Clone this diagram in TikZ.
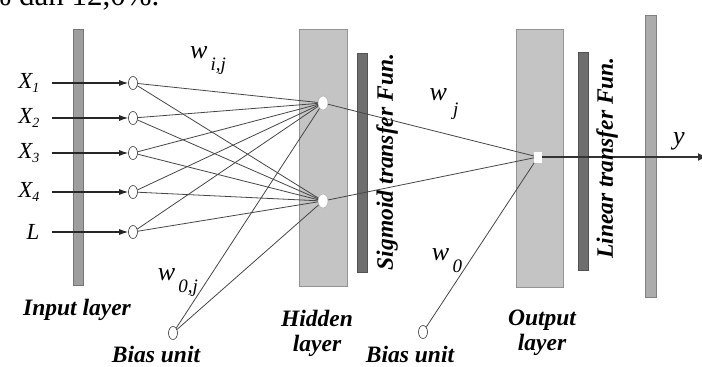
\documentclass[tikz,border=0pt]{standalone}
\usepackage{fontspec}
\setmainfont{Liberation Serif}
\usetikzlibrary{shapes.geometric, arrows.meta, positioning}
\definecolor{inGray}{RGB}{158,158,158}
\definecolor{layerGray}{RGB}{196,196,196}
\definecolor{funGray}{RGB}{110,110,110}
\definecolor{outGray}{RGB}{172,172,172}
\definecolor{wireGray}{RGB}{70,70,70}

\begin{document}
\begin{tikzpicture}[
  x=1pt, y=-1pt,
  bar/.style={
    rectangle, draw=#1!75!black, fill=#1,
    inner sep=0pt, line width=0.6pt
  },
  unit/.style={
    ellipse, draw=black!80, fill=white,
    minimum width=9pt, minimum height=13pt, inner sep=0pt, line width=0.6pt
  },
  hunit/.style={unit, draw=black!30, minimum width=10pt, minimum height=14pt},
  wire/.style={draw=wireGray, line width=0.8pt},
  inarr/.style={-{Latex[length=9pt,width=6pt]}, line width=1.1pt, black!85},
  lbl/.style={font=\fontsize{23.5}{25}\selectfont\bfseries\itshape, align=center},
  wlbl/.style={font=\fontsize{26}{28}\selectfont\itshape}
]
  \clip (0,0) rectangle (702,367);
  \useasboundingbox (0,0) rectangle (702,367);

  % Layers
  \node[bar=inGray, minimum width=10pt, minimum height=256pt]
    (inbar) at (78,157) {};
  \node[bar=layerGray, minimum width=48pt, minimum height=257pt]
    (hidden) at (323,157.5) {};
  \node[bar=funGray, minimum width=10pt, minimum height=219pt]
    (sigbar) at (362,162.5) {};
  \node[bar=layerGray, minimum width=47pt, minimum height=258pt]
    (output) at (539.5,158) {};
  \node[bar=funGray, minimum width=10pt, minimum height=218pt]
    (linbar) at (583,161) {};
  \node[bar=outGray, minimum width=11pt, minimum height=282pt]
    (outbar) at (650.5,156) {};

  % Units
  \foreach \n/\y/\t in {1/83/{X\raisebox{-0.4ex}{\fontsize{14}{14}\selectfont 1}},
                        2/118/{X\raisebox{-0.4ex}{\fontsize{14}{14}\selectfont 2}},
                        3/153/{X\raisebox{-0.4ex}{\fontsize{14}{14}\selectfont 3}},
                        4/192/{X\raisebox{-0.4ex}{\fontsize{14}{14}\selectfont 4}},
                        5/232/{L}} {
    \node[font=\fontsize{23}{25}\selectfont\itshape, anchor=east] (x\n) at (43,\y) {\t};
    \coordinate (s\n) at (52,\y);
    \node[unit] (i\n) at (133,\y) {};
  }
  \node[hunit] (h1) at (323,103) {};
  \node[hunit] (h2) at (323,201) {};
  \node[unit] (b1) at (173,333) {};
  \node[unit] (b2) at (423,332) {};
  \node[rectangle, fill=white, minimum width=8pt, minimum height=11pt,
    inner sep=0pt] (o) at (538,157) {};
  \coordinate (yend) at (707,157);

  % Connections
  \foreach \n in {1,...,5}
    \draw[inarr] (s\n) -- (i\n);
  \foreach \n in {1,...,5}
    \foreach \h in {h1,h2}
      \draw[wire] (i\n) -- (\h);
  \foreach \h in {h1,h2}
    \draw[wire] (b1) -- (\h);
  \foreach \a in {h1,h2,b2}
    \draw[wire] (\a) -- (o);
  \draw[-{Latex[length=9pt,width=8pt]}, line width=1.2pt, black!80] (o) -- (yend);

  % Labels
  \node[lbl] (inlbl) at (77,310) {Input layer};
  \node[lbl] (bias1) at (156,354) {Bias unit};
  \node[lbl] (hidlbl) at (317,333) {Hidden\\layer};
  \node[lbl] (bias2) at (410,354) {Bias unit};
  \node[lbl] (outlbl) at (542,333) {Output\\layer};
  \node[lbl, rotate=90] (siglbl) at (387,162) {Sigmoid transfer Fun.};
  \node[lbl, rotate=90] (linlbl) at (607,158) {Linear transfer Fun.};
  \node[wlbl] (wij) at (208,61)
    {w\raisebox{-1.0ex}{\fontsize{19}{19}\selectfont\,i,j}};
  \node[wlbl] (w0j) at (178,283)
    {w\raisebox{-1.0ex}{\fontsize{19}{19}\selectfont\,0,j}};
  \node[wlbl] (wj) at (444,104)
    {w\raisebox{-1.2ex}{\fontsize{19}{19}\selectfont\,\,j}};
  \node[wlbl] (w0) at (447,261)
    {w\raisebox{-1.0ex}{\fontsize{19}{19}\selectfont\,0}};
  \node[wlbl] (ylbl) at (679,141) {y};
  \node[font=\fontsize{31}{33}\selectfont, anchor=base east] (cut) at (163,5)
    {\% dan 12,0\%.};
\end{tikzpicture}
\end{document}
